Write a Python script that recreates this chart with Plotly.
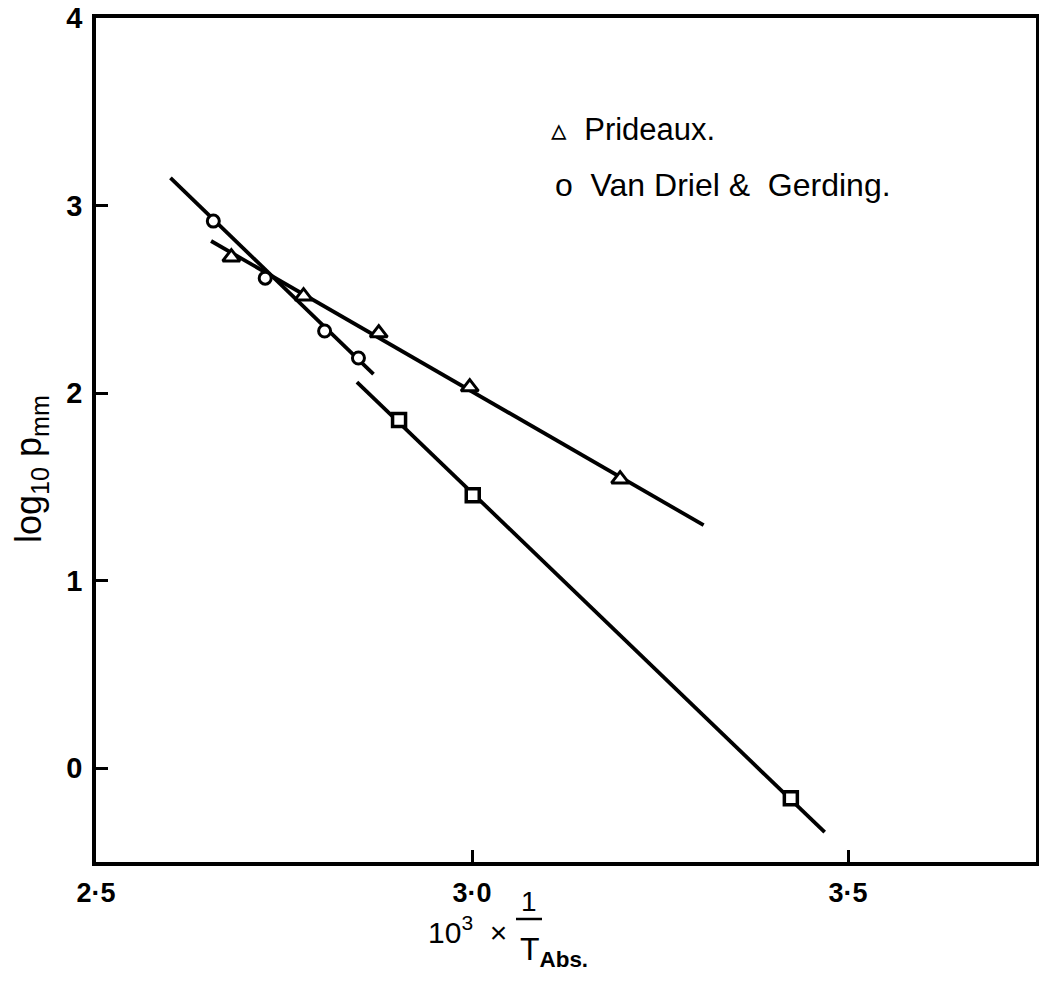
import plotly.graph_objects as go

# Van Driel & Gerding (circles)
vdg_x = [2.656, 2.725, 2.804, 2.849]
vdg_y = [2.917, 2.613, 2.331, 2.187]
# Prideaux (triangles)
pri_x = [2.680, 2.776, 2.876, 2.997, 3.197]
pri_y = [2.725, 2.517, 2.320, 2.032, 1.541]
# third series (squares)
sq_x = [2.903, 3.001, 3.424]
sq_y = [1.856, 1.456, -0.160]
# fitted straight lines (end points)
vdg_line_x = [2.599, 2.869]
vdg_line_y = [3.147, 2.101]
pri_line_x = [2.653, 3.308]
pri_line_y = [2.811, 1.296]
sq_line_x = [2.847, 3.469]
sq_line_y = [2.059, -0.341]

x_ticks = [2.5, 3.0, 3.5]
x_ticktext = ["<b>2·5</b>", "<b>3·0</b>", "<b>3·5</b>"]
y_ticks = [0, 1, 2, 3, 4]
y_ticktext = ["<b>0</b>", "<b>1</b>", "<b>2</b>", "<b>3</b>", "<b>4</b>"]

BLACK = "black"
OFF = 7  # page offset of the figure in the browser
fig = go.Figure()
for lx, ly in [(vdg_line_x, vdg_line_y), (pri_line_x, pri_line_y), (sq_line_x, sq_line_y)]:
    fig.add_trace(go.Scatter(x=lx, y=ly, mode="lines", line=dict(color=BLACK, width=3.8),
                             showlegend=False, hoverinfo="skip"))

fig.add_trace(go.Scatter(x=vdg_x, y=vdg_y, mode="markers", name="Van Driel & Gerding",
                         marker=dict(symbol="circle", size=12, color="white",
                                     line=dict(color=BLACK, width=3)), showlegend=False))
fig.add_trace(go.Scatter(x=pri_x, y=pri_y, mode="markers", name="Prideaux",
                         marker=dict(symbol="triangle-up", size=15, color="white",
                                     line=dict(color=BLACK, width=3)), showlegend=False))
fig.add_trace(go.Scatter(x=sq_x, y=sq_y, mode="markers", name="squares",
                         marker=dict(symbol="square", size=13, color="white",
                                     line=dict(color=BLACK, width=3.5)), showlegend=False))

FONT = "Liberation Sans"
L, R, T, B = 95 - OFF, 1035 - OFF, 17 - OFF, 861 - OFF
W, H = 1047, 993
fig.update_layout(
    width=W, height=H,
    margin=dict(l=L, r=W - R, t=T, b=H - B),
    paper_bgcolor="white", plot_bgcolor="white",
    font=dict(family=FONT, color=BLACK),
    xaxis=dict(range=[2.5, 3.75], tickvals=x_ticks, ticktext=x_ticktext, automargin=False,
               ticks="inside", ticklen=12, tickwidth=2.5, tickcolor=BLACK,
               showline=True, linewidth=3.5, linecolor=BLACK, mirror=True,
               showgrid=False, zeroline=False, ticklabelstandoff=4,
               ticklabeloverflow="allow",
               tickfont=dict(size=27, family=FONT, color=BLACK)),
    yaxis=dict(range=[-0.5, 4.0], tickvals=y_ticks, ticktext=y_ticktext, automargin=False,
               ticks="inside", ticklen=12, tickwidth=2.5, tickcolor=BLACK,
               showline=True, linewidth=3.5, linecolor=BLACK, mirror=True,
               showgrid=False, zeroline=False, ticklabelstandoff=4,
               ticklabeloverflow="allow",
               tickfont=dict(size=29, family=FONT, color=BLACK)),
)

def px(xs):
    return (xs - 95) / (1035 - 95)

def py(ys):
    return 1 - (ys - 17) / (861 - 17)

# legend-like hand annotations
fig.add_annotation(xref="paper", yref="paper", x=px(548), y=py(128),
                   text="▵  Prideaux.", showarrow=False, xanchor="left", yanchor="middle",
                   font=dict(size=31, family=FONT))
fig.add_annotation(xref="paper", yref="paper", x=px(552), y=py(184),
                   text="o  Van Driel &  Gerding.", showarrow=False, xanchor="left", yanchor="middle",
                   font=dict(size=32, family=FONT))

# y-axis title
fig.add_annotation(xref="paper", yref="paper", x=px(30), y=py(468),
                   text="log<sub>10</sub> p<sub>mm</sub>", showarrow=False, textangle=-90,
                   xanchor="center", yanchor="middle", font=dict(size=36, family=FONT))

# x-axis title as fraction
fig.add_annotation(xref="paper", yref="paper", x=px(466), y=py(929),
                   text="10<sup>3</sup>  ×", showarrow=False, xanchor="center", yanchor="middle",
                   font=dict(size=30, family=FONT))
fig.add_annotation(xref="paper", yref="paper", x=px(528), y=py(900),
                   text="1", showarrow=False, xanchor="center", yanchor="middle",
                   font=dict(size=28, family=FONT))
fig.add_shape(type="line", xref="paper", yref="paper", x0=px(515), x1=px(541),
              y0=py(918), y1=py(918), line=dict(color=BLACK, width=2.5))
fig.add_annotation(xref="paper", yref="paper", x=px(517), y=py(950),
                   text="T<sub><b>Abs.</b></sub>", showarrow=False, xanchor="left", yanchor="middle",
                   font=dict(size=32, family=FONT))

fig.write_html("out.html")
